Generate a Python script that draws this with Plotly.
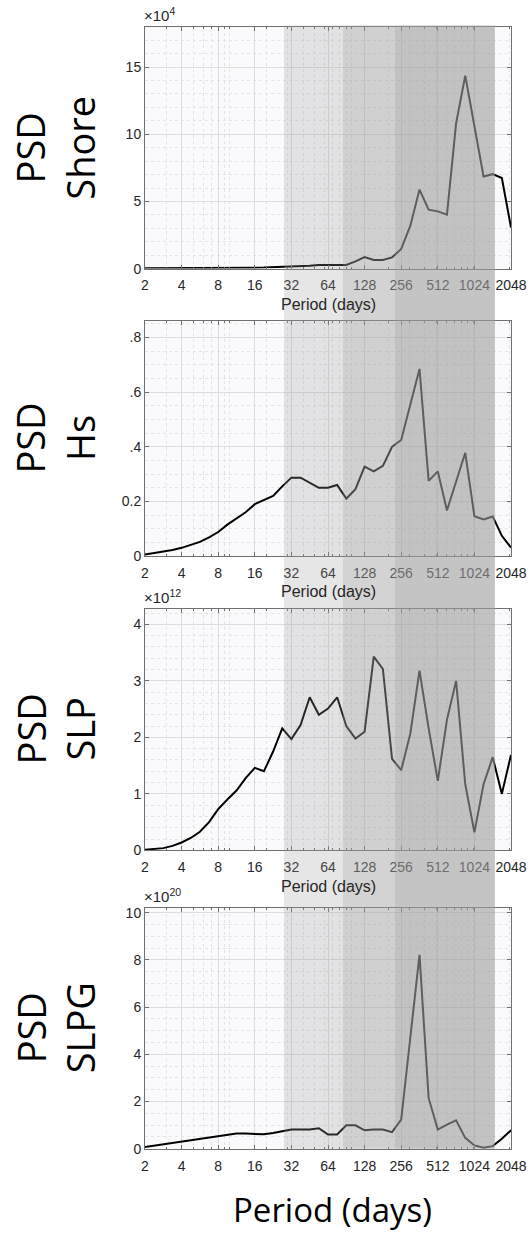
import plotly.graph_objects as go
from plotly.subplots import make_subplots

# ---------------- data ----------------
# periods (days): 2^(1 + k/4), k = 0..40
k_index = list(range(41))
period_days = [2 ** (1 + k / 4) for k in k_index]

psd_shore_e4 = [0.02, 0.02, 0.02, 0.02, 0.03, 0.03, 0.03, 0.04, 0.04, 0.05,
                0.05, 0.06, 0.07, 0.08, 0.10, 0.15, 0.17, 0.20, 0.22, 0.27,
                0.27, 0.25, 0.27, 0.54, 0.86, 0.64, 0.64, 0.83, 1.47, 3.20,
                5.88, 4.39, 4.26, 4.02, 10.8, 14.36, 10.6, 6.86, 7.03, 6.74,
                3.06]

psd_hs = [0.006, 0.011, 0.016, 0.022, 0.030, 0.040, 0.052, 0.068, 0.088, 0.115,
          0.136, 0.160, 0.190, 0.205, 0.220, 0.255, 0.287, 0.287, 0.270, 0.250,
          0.250, 0.260, 0.210, 0.245, 0.327, 0.310, 0.330, 0.400, 0.425, 0.550,
          0.685, 0.275, 0.310, 0.167, 0.270, 0.378, 0.146, 0.134, 0.145, 0.074,
          0.031]

psd_slp_e12 = [0.01, 0.02, 0.04, 0.08, 0.14, 0.22, 0.33, 0.50, 0.73, 0.90,
               1.06, 1.28, 1.46, 1.40, 1.75, 2.16, 1.97, 2.22, 2.71, 2.40,
               2.51, 2.71, 2.20, 1.98, 2.10, 3.43, 3.21, 1.62, 1.42, 2.07,
               3.18, 2.16, 1.23, 2.31, 3.00, 1.17, 0.32, 1.17, 1.65, 1.00,
               1.69]

psd_slpg_e20 = [0.07, 0.13, 0.17, 0.22, 0.29, 0.36, 0.42, 0.47, 0.53, 0.60,
                0.64, 0.64, 0.64, 0.61, 0.67, 0.73, 0.81, 0.81, 0.81, 0.87,
                0.60, 0.60, 0.99, 0.99, 0.78, 0.81, 0.81, 0.70, 1.23, 4.72,
                8.21, 2.14, 0.81, 1.02, 1.20, 0.46, 0.14, 0.04, 0.11, 0.42,
                0.78]

series = [psd_shore_e4, psd_hs, psd_slp_e12, psd_slpg_e20]
row_labels = ["PSD<br>Shore", "PSD<br>Hs", "PSD<br>SLP", "PSD<br>SLPG"]
exponents = ["×10<sup>4</sup>", None, "×10<sup>12</sup>", "×10<sup>20</sup>"]

x_tick_vals = [2, 4, 8, 16, 32, 64, 128, 256, 512, 1024, 2048]
x_tick_text = [str(v) for v in x_tick_vals]
x_minor_vals = [m * 10 ** e for e in range(0, 4) for m in range(1, 10) if 2 <= m * 10 ** e <= 2048]

y_tick_vals = [[0, 5, 10, 15], [0, 0.2, 0.4, 0.6, 0.8], [0, 1, 2, 3, 4], [0, 2, 4, 6, 8, 10]]
y_tick_text = [["0", "5", "10", "15"], ["0", "0.2", ".4", ".6", ".8"],
               ["0", "1", "2", "3", "4"], ["0", "2", "4", "6", "8", "10"]]
y_ranges = [[0, 18], [0, 0.86], [0, 4.28], [0, 10.2]]
y_minor_dtick = [1, 0.05, 0.2, 0.5]

# shaded period bands (days) and their overlay opacity
band_edges = [27.8, 85, 227.5, 1510]
band_alpha = [0.25, 0.45, 0.6]

# ---------------- layout helpers ----------------
W, H = 530, 1236
L, R = 145, 19
plot_px = [(24, 268), (321, 558), (611, 855), (913, 1156)]


def py(p):
    return 1 - p / H


def px(p):
    return (p - L) / (W - L - R)


fig = make_subplots(rows=4, cols=1)

tick_font = dict(family="Liberation Sans, Arial, sans-serif", size=14, color="#262626")
axis_col = "#707070"

for i, ys in enumerate(series):
    r = i + 1
    fig.add_trace(go.Scatter(x=period_days, y=ys, mode="lines",
                             line=dict(color="black", width=2),
                             showlegend=False, hoverinfo="skip"), row=r, col=1)
    top, bot = plot_px[i]
    fig.update_xaxes(type="log", range=[0.30103, 3.31133],
                     tickmode="array", tickvals=x_tick_vals, ticktext=x_tick_text,
                     tickfont=tick_font, ticks="inside", ticklen=4, tickcolor=axis_col,
                     ticklabelstandoff=4,
                     showline=True, linecolor=axis_col, linewidth=1, mirror="allticks",
                     showgrid=True, gridcolor="#dcdcdc", gridwidth=1,
                     minor=dict(tickmode="array", tickvals=x_minor_vals, showgrid=True,
                                gridcolor="#e4e4e4", griddash="dot", ticks="inside",
                                ticklen=2, tickcolor=axis_col),
                     zeroline=False, domain=[0, 1], row=r, col=1)
    fig.update_yaxes(range=y_ranges[i], tickmode="array", tickvals=y_tick_vals[i],
                     ticktext=y_tick_text[i], tickfont=tick_font,
                     ticks="inside", ticklen=4, tickcolor=axis_col,
                     showline=True, linecolor=axis_col, linewidth=1, mirror="allticks",
                     showgrid=True, gridcolor="#dcdcdc", gridwidth=1,
                     minor=dict(dtick=y_minor_dtick[i], showgrid=True, gridcolor="#e4e4e4",
                                griddash="dot"),
                     zeroline=False, domain=[py(bot), py(top)], row=r, col=1)

    # big row label
    fig.add_annotation(text=row_labels[i], xref="paper", yref="paper",
                       x=px(55), y=py((top + bot) / 2), textangle=-90,
                       showarrow=False, xanchor="center", yanchor="middle",
                       font=dict(family="Open Sans", size=38, color="black"))
    # exponent label
    if exponents[i]:
        fig.add_annotation(text=exponents[i], xref="paper", yref="paper",
                           x=px(142), y=py(top - 1), showarrow=False,
                           xanchor="left", yanchor="bottom",
                           font=dict(family="Liberation Sans, Arial", size=15, color="#262626"))
    # small axis title for the first three panels
    if i < 3:
        fig.add_annotation(text="Period (days)", xref="paper", yref="paper",
                           x=0.5, y=py(bot + 36), showarrow=False,
                           xanchor="center", yanchor="middle",
                           font=dict(family="Liberation Sans, Arial", size=16, color="#262626"))

# bottom big axis title
fig.add_annotation(text="Period (days)", xref="paper", yref="paper",
                   x=px(332), y=py(1217), showarrow=False,
                   xanchor="center", yanchor="middle",
                   font=dict(family="Open Sans", size=33, color="black"))

# translucent shaded bands across all panels
for j in range(3):
    fig.add_shape(type="rect", xref="x", yref="paper",
                  x0=band_edges[j], x1=band_edges[j + 1],
                  y0=py(1156), y1=py(22.7),
                  fillcolor=f"rgba(157,157,157,{band_alpha[j]})",
                  line=dict(width=0), layer="above")

fig.update_layout(width=W, height=H, margin=dict(l=L, r=R, t=0, b=0),
                  paper_bgcolor="white", plot_bgcolor="#fafafc",
                  showlegend=False)

fig.write_html("out.html")
